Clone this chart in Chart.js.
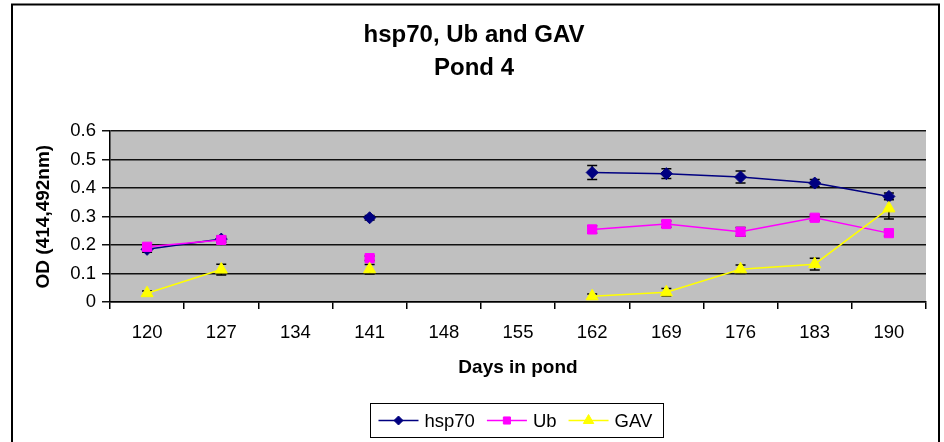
<!DOCTYPE html>
<html>
<head>
<meta charset="utf-8">
<script src="https://cdn.jsdelivr.net/npm/chart.js@4"></script>
<style>
  html, body { margin: 0; padding: 0; background: #fff; }
  #wrap { width: 944px; height: 442px; position: relative; }
</style>
</head>
<body>
<div id="wrap"><canvas id="c" width="944" height="442"></canvas></div>
<script>
// Days in pond (category axis)
const days = ['120', '127', '134', '141', '148', '155', '162', '169', '176', '183', '190'];

// Mean OD readings per sampling day (null = not sampled)
const hsp70 = [0.185, 0.221, null, 0.296, null, null, 0.455, 0.451, 0.439, 0.418, 0.371];
const ub    = [0.194, 0.218, null, 0.154, null, null, 0.255, 0.274, 0.247, 0.296, 0.242];
const gav   = [0.031, 0.114, null, 0.115, null, null, 0.020, 0.034, 0.115, 0.133, 0.329];

// Standard errors (drawn as error bars)
const hsp70Err = [0.010, 0.010, null, 0.008, null, null, 0.025, 0.017, 0.021, 0.012, 0.012];
const ubErr    = [0.008, 0.008, null, 0.008, null, null, 0.013, 0.011, 0.015, 0.010, 0.010];
const gavErr   = [0.008, 0.019, null, 0.017, null, null, 0.008, 0.013, 0.015, 0.021, 0.037];

// Y axis tick values
const yTicks = [0, 0.1, 0.2, 0.3, 0.4, 0.5, 0.6];

const FONT = "'Liberation Sans', Arial, sans-serif";

const errors = [hsp70Err, ubErr, gavErr];

// Gray plot area behind the grid
const plotBackground = {
  id: 'plotBackground',
  beforeDraw(chart) {
    const { ctx, chartArea: a } = chart;
    ctx.save();
    ctx.fillStyle = '#fff';
    ctx.fillRect(0, 0, chart.width, chart.height);
    ctx.fillStyle = '#C0C0C0';
    ctx.fillRect(a.left, a.top, a.right - a.left, a.bottom - a.top);
    ctx.restore();
  }
};

// Vertical error bars with caps, drawn underneath the lines and markers
const errorBars = {
  id: 'errorBars',
  beforeDatasetsDraw(chart) {
    const { ctx } = chart;
    const yScale = chart.scales.y;
    ctx.save();
    ctx.strokeStyle = '#000';
    ctx.lineWidth = 1.5;
    chart.data.datasets.forEach((ds, di) => {
      const meta = chart.getDatasetMeta(di);
      const err = errors[di];
      ds.data.forEach((v, i) => {
        if (v === null || err[i] === null) return;
        const x = meta.data[i].x;
        const yt = yScale.getPixelForValue(v + err[i]);
        const yb = yScale.getPixelForValue(v - err[i]);
        ctx.beginPath();
        ctx.moveTo(x, yt); ctx.lineTo(x, yb);
        ctx.moveTo(x - 5, yt); ctx.lineTo(x + 5, yt);
        ctx.moveTo(x - 5, yb); ctx.lineTo(x + 5, yb);
        ctx.stroke();
      });
    });
    ctx.restore();
  }
};

// Boxed legend with line + marker samples, and the outer chart frame
const boxedLegend = {
  id: 'boxedLegend',
  afterDraw(chart) {
    const { ctx, chartArea: a } = chart;
    ctx.save();
    ctx.font = '18.5px ' + FONT;
    const items = chart.data.datasets.map(ds => ({
      ds, w: ctx.measureText(ds.label).width
    }));
    const padL = 8, padR = 11, lineLen = 40, gapText = 6, gapItem = 12;
    let total = padL + padR;
    items.forEach((it, i) => { total += lineLen + gapText + it.w + (i < items.length - 1 ? gapItem : 0); });
    const cx = (a.left + a.right) / 2 - 2;
    const boxTop = 403, boxH = 34;
    const left = Math.round(cx - total / 2) + 0.5;
    ctx.strokeStyle = '#000';
    ctx.lineWidth = 1;
    ctx.strokeRect(left, boxTop + 0.5, Math.round(total), boxH);
    const cy = boxTop + boxH / 2 + 0.5;
    let x = left + padL;
    items.forEach((it, i) => {
      const ds = it.ds;
      ctx.strokeStyle = ds.borderColor;
      ctx.lineWidth = ds.borderWidth;
      ctx.beginPath();
      ctx.moveTo(x, cy); ctx.lineTo(x + lineLen, cy);
      ctx.stroke();
      ctx.fillStyle = ds.pointBackgroundColor;
      ctx.strokeStyle = ds.pointBorderColor;
      ctx.lineWidth = 1;
      Chart.helpers.drawPoint(ctx, {
        pointStyle: ds.pointStyle, rotation: 0, borderWidth: 1,
        radius: ds.legendRadius
      }, x + lineLen / 2, cy);
      ctx.fillStyle = '#000';
      ctx.textBaseline = 'middle';
      ctx.textAlign = 'left';
      ctx.fillText(ds.label, x + lineLen + gapText, cy + 1);
      x += lineLen + gapText + it.w + gapItem;
    });

    // outer frame (bottom edge runs past the canvas)
    ctx.strokeStyle = '#000';
    ctx.lineWidth = 2;
    ctx.beginPath();
    ctx.moveTo(12, 470);
    ctx.lineTo(12, 4.5);
    ctx.lineTo(939, 4.5);
    ctx.lineTo(939, 470);
    ctx.stroke();
    ctx.restore();
  }
};

const series = (label, data, color, style, radius, legendRadius, order) => ({
  label, data, order,
  borderColor: color,
  backgroundColor: color,
  borderWidth: 1.5,
  pointStyle: style,
  pointRadius: radius,
  pointHoverRadius: radius,
  pointBackgroundColor: color,
  pointBorderColor: color,
  pointBorderWidth: 1,
  legendRadius,
  spanGaps: false,
  tension: 0,
  fill: false
});

new Chart(document.getElementById('c'), {
  type: 'line',
  data: {
    labels: days,
    datasets: [
      series('hsp70', hsp70, '#000080', 'rectRot', 6, 4.5, 3),
      series('Ub', ub, '#FF00FF', 'rect', 6.5, 5, 2),
      series('GAV', gav, '#FFFF00', 'triangle', 7, 6, 1)
    ]
  },
  options: {
    responsive: false,
    animation: false,
    events: [],
    layout: { padding: { left: 22, right: 18, top: 0, bottom: 0 } },
    plugins: {
      legend: { display: false },
      tooltip: { enabled: false },
      title: {
        display: true,
        text: ['hsp70, Ub and GAV', 'Pond 4'],
        color: '#000',
        font: { family: FONT, size: 24, weight: 'bold', lineHeight: 1.38 },
        padding: { top: 19, bottom: 46 }
      }
    },
    scales: {
      x: {
        type: 'category',
        offset: true,
        grid: {
          offset: true,
          drawOnChartArea: false,
          drawTicks: true,
          tickLength: 7,
          color: '#000',
          lineWidth: 1.5
        },
        border: { color: '#000', width: 1.5 },
        ticks: {
          color: '#000',
          font: { family: FONT, size: 18.5 },
          padding: 13,
          maxRotation: 0,
          autoSkip: false
        },
        title: {
          display: true,
          text: 'Days in pond',
          color: '#000',
          font: { family: FONT, size: 19, weight: 'bold' },
          padding: { top: 0, bottom: 63 }
        },
        afterFit(scale) { scale.height = 140; }
      },
      y: {
        min: yTicks[0],
        max: yTicks[yTicks.length - 1],
        afterBuildTicks(scale) { scale.ticks = yTicks.map(v => ({ value: v })); },
        grid: {
          color: '#111',
          lineWidth: 1.5,
          drawTicks: true,
          tickLength: 8
        },
        border: { color: '#000', width: 1.5 },
        ticks: {
          color: '#000',
          font: { family: FONT, size: 18.5 },
          padding: 6,
          callback: v => (v === 0 ? '0' : Number(v).toFixed(1))
        },
        title: {
          display: true,
          text: 'OD (414,492nm)',
          color: '#000',
          font: { family: FONT, size: 19, weight: 'bold' },
          padding: { top: 10.5, bottom: 0 }
        },
        afterFit(scale) { scale.width = 88; }
      }
    }
  },
  plugins: [plotBackground, errorBars, boxedLegend]
});
</script>
</body>
</html>
